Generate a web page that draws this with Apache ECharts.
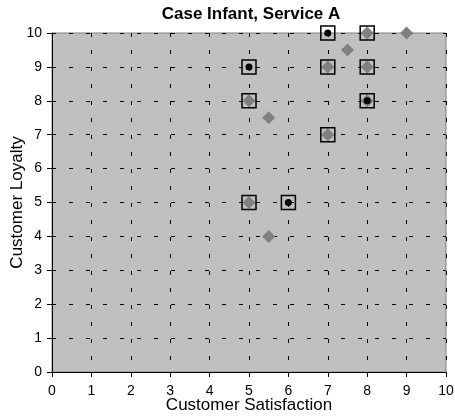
<!DOCTYPE html>
<html>
<head>
<meta charset="utf-8">
<script src="https://cdn.jsdelivr.net/npm/echarts@6/dist/echarts.min.js"></script>
<style>
html,body{margin:0;padding:0;background:#fff;}
#chart{width:455px;height:416px;}
</style>
</head>
<body>
<div id="chart"></div>
<script>
// diamonds (drawn first), hollow squares, then black dots on top
var diamondPts=[[8,10],[9,10],[7.5,9.5],[7,9],[8,9],[5,8],[5.5,7.5],[8,8],[7,7],[5,5],[5.5,4]];
var squarePts=[[7,10],[8,10],[5,9],[7,9],[8,9],[5,8],[8,8],[7,7],[5,5],[6,5]];
var dotPts=[[7,10],[5,9],[8,8],[6,5]];
var axisTicks=[0,1,2,3,4,5,6,7,8,9,10];

var chart=echarts.init(document.getElementById('chart'));
var font='Liberation Sans, Arial, sans-serif';
var dash=[4,13];
var option={
	backgroundColor:'#ffffff',
	animation:false,
	title:{
		text:'Case Infant, Service A',
		left:246,
		top:1,
		textAlign:'center',
		textStyle:{fontFamily:font,fontSize:17,fontWeight:'bold',color:'#000'}
	},
	grid:{
		left:52,right:9,top:33,bottom:44,
		outerBoundsMode:'none',
		containLabel:false,
		show:true,
		backgroundColor:'#c0c0c0',
		borderColor:'#808080',
		borderWidth:1
	},
	xAxis:{
		type:'value',min:0,max:10,interval:1,
		name:'Customer Satisfaction',
		nameLocation:'middle',
		nameGap:25,
		nameMoveOverlap:false,
		nameTextStyle:{fontFamily:font,fontSize:17,color:'#000'},
		axisLine:{show:true,onZero:false,lineStyle:{color:'#000',width:1}},
		axisTick:{show:true,length:5,lineStyle:{color:'#000'}},
		axisLabel:{fontFamily:font,fontSize:14,color:'#000',margin:12,
			formatter:function(v){return axisTicks.indexOf(v)>=0?String(v):'';}},
		splitLine:{show:true,lineStyle:{color:'#000',type:dash,width:1}}
	},
	yAxis:{
		type:'value',min:0,max:10,interval:1,
		name:'Customer Loyalty',
		nameLocation:'middle',
		nameGap:26,
		nameMoveOverlap:false,
		nameTextStyle:{fontFamily:font,fontSize:17,color:'#000'},
		axisLine:{show:true,onZero:false,lineStyle:{color:'#000',width:1}},
		axisTick:{show:true,length:5,lineStyle:{color:'#000'}},
		axisLabel:{fontFamily:font,fontSize:14,color:'#000',margin:10},
		splitLine:{show:true,lineStyle:{color:'#000',type:dash,width:1}}
	},
	series:[
		{
			type:'scatter',
			data:diamondPts,
			symbol:'diamond',
			symbolSize:13,
			itemStyle:{color:'#808080',opacity:1}
		},
		{
			type:'scatter',
			data:squarePts,
			symbol:'rect',
			symbolSize:14,
			itemStyle:{color:'rgba(0,0,0,0)',borderColor:'#000',borderWidth:1.5,opacity:1}
		},
		{
			type:'scatter',
			data:dotPts,
			symbol:'circle',
			symbolSize:7,
			itemStyle:{color:'#000',opacity:1}
		}
	]
};
chart.setOption(option);
</script>
</body>
</html>
